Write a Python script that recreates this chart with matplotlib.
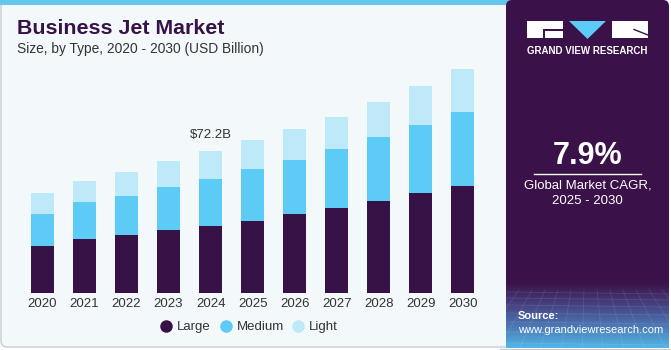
import matplotlib
matplotlib.use('Agg')
import matplotlib.pyplot as plt
import numpy as np
from matplotlib.patches import FancyBboxPatch, Rectangle, Polygon
from matplotlib.lines import Line2D

plt.rcParams['font.family'] = ['Liberation Sans', 'DejaVu Sans']

# data (USD Billion)
years = ['2020', '2021', '2022', '2023', '2024', '2025', '2026', '2027', '2028', '2029', '2030']
large = [23.9, 27.4, 29.4, 32.1, 34.0, 36.7, 40.1, 43.3, 46.7, 50.8, 54.5]
medium = [16.3, 18.9, 19.9, 21.8, 24.1, 26.3, 27.7, 29.9, 32.5, 34.8, 37.7]
light = [10.5, 10.7, 12.4, 13.1, 14.1, 14.6, 15.8, 16.5, 17.8, 19.6, 21.6]
series_names = ['Large', 'Medium', 'Light']
label_year = '2024'
label_text = '$72.2B'
cagr = '7.9%'

# colours
c_large = '#371247'
c_medium = '#5ccbf5'
c_light = '#bde9f9'
bg_light = '#f3f8fb'
panel = '#3a1148'
title_col = '#371247'
text_col = '#333333'

W, H = 671, 350
fig = plt.figure(figsize=(W / 100, H / 100), dpi=100)
fig.patch.set_facecolor('white')

# background axes in pixel coords (y down)
bg = fig.add_axes([0, 0, 1, 1])
bg.set_xlim(0, W)
bg.set_ylim(H, 0)
bg.axis('off')

# left panel
bg.add_patch(FancyBboxPatch((1, 1), 520, 346, boxstyle='round,pad=0,rounding_size=6',
                            facecolor=bg_light, edgecolor='#c8cccf', lw=1.0))
bg.add_patch(Rectangle((0, 0), 510, 4.5, facecolor='#62c6ef', edgecolor='none'))
bg.plot([500, 669], [348.5, 348.5], color='#c8cccf', lw=1.0)

# right panel
bg.add_patch(FancyBboxPatch((506, 0), 163, 348, boxstyle='round,pad=0,rounding_size=6',
                            facecolor=panel, edgecolor='none'))
# gradient at bottom of right panel
grad = np.linspace(0, 1, 100)[:, None]
cmap = matplotlib.colors.LinearSegmentedColormap.from_list(
    'g', [panel, '#46407f', '#4b77b4', '#52b6e6'])
bg.imshow(grad, cmap=cmap, extent=(506, 669, 348, 282), aspect='auto', zorder=1)
# faint grid texture
for i in range(14):
    x0 = 506 + i * 13
    bg.plot([x0, 587 + (x0 - 587) * 1.6], [290, 348], color='white', alpha=0.1, lw=0.6, zorder=2)
for yy in [292, 298, 305, 313, 322, 332, 343]:
    bg.plot([506, 669], [yy, yy + 2], color='white', alpha=0.1, lw=0.6, zorder=2)

# logo
bg.add_patch(Rectangle((527, 21), 36, 17, facecolor='white', edgecolor='none', zorder=3))
bg.add_patch(Rectangle((543, 29), 20, 2, facecolor=panel, edgecolor='none', zorder=4))
bg.add_patch(Rectangle((543, 29), 2, 9, facecolor=panel, edgecolor='none', zorder=4))
bg.add_patch(Polygon([(569, 21), (606, 21), (587.5, 39)], closed=True,
                     facecolor='#5ccbf5', edgecolor='none', zorder=3))
bg.add_patch(Rectangle((612, 21), 36, 17, facecolor='white', edgecolor='none', zorder=3))
bg.plot([634, 648], [29.5, 35], color=panel, lw=1.0, zorder=4)
bg.text(587.5, 51, 'GRAND VIEW RESEARCH', color='white', fontsize=7, fontweight='bold',
        ha='center', va='center', zorder=5)

# CAGR block
bg.text(587.5, 156, cagr, color='white', fontsize=22, fontweight='bold',
        ha='center', va='center', zorder=5)
bg.plot([534, 641], [173.5, 173.5], color='white', lw=1.0, zorder=5)
bg.text(587.5, 185, 'Global Market CAGR,', color='white', fontsize=9.5,
        ha='center', va='center', zorder=5)
bg.text(587.5, 201, '2025 - 2030', color='white', fontsize=9.5,
        ha='center', va='center', zorder=5)

# source
bg.text(518, 316, 'Source:', color='white', fontsize=8, fontweight='bold',
        ha='left', va='center', zorder=5)
bg.text(518, 330, 'www.grandviewresearch.com', color='white', fontsize=8,
        ha='left', va='center', zorder=5)

# titles
bg.text(17, 29, 'Business Jet Market', color=title_col, fontsize=15.4, fontweight='bold',
        ha='left', va='center')
bg.text(17, 49, 'Size, by Type, 2020 - 2030 (USD Billion)', color=text_col, fontsize=9.9,
        ha='left', va='center')

# chart axes: x pixels 10..495, baseline at y=292.7 px from top
px_step = 42.02
x_first = 42.5
px_per_b = 1.963
ax_l, ax_r = 10, 495
ax_b, ax_t = 292.7, 60
ax = fig.add_axes([ax_l / W, (H - ax_b) / H, (ax_r - ax_l) / W, (ax_b - ax_t) / H])
ax.set_xlim((ax_l - x_first) / px_step, (ax_r - x_first) / px_step)
ax.set_ylim(0, (ax_b - ax_t) / px_per_b)
ax.patch.set_alpha(0)
for s in ax.spines.values():
    s.set_visible(False)

x = np.arange(len(years))
large_a = np.array(large)
medium_a = np.array(medium)
light_a = np.array(light)
bw = 0.55
ax.bar(x, large_a, bw, color=c_large, label=series_names[0])
ax.bar(x, medium_a, bw, bottom=large_a, color=c_medium, label=series_names[1])
ax.bar(x, light_a, bw, bottom=large_a + medium_a, color=c_light, label=series_names[2])

totals = large_a + medium_a + light_a
i_lab = years.index(label_year)
ax.annotate(label_text, (x[i_lab], totals[i_lab]), xytext=(0, 7), textcoords='offset points',
            ha='center', va='bottom', fontsize=9.5, color=text_col)

ax.set_xticks(x)
ax.set_xticklabels(years, fontsize=9.5, color=text_col)
ax.tick_params(axis='x', length=0, pad=4)
ax.set_yticks([])

# legend
handles = [Line2D([], [], marker='o', ls='none', markersize=8, color=c)
           for c in (c_large, c_medium, c_light)]
fig.legend(handles, series_names, loc='center', bbox_to_anchor=(249 / W, 1 - 327 / H), ncol=3,
           frameon=False, fontsize=9.5, handletextpad=0.33, columnspacing=0.6,
           labelcolor=text_col, handlelength=1.0)

fig.savefig('out.png', dpi=100, facecolor=fig.get_facecolor())
